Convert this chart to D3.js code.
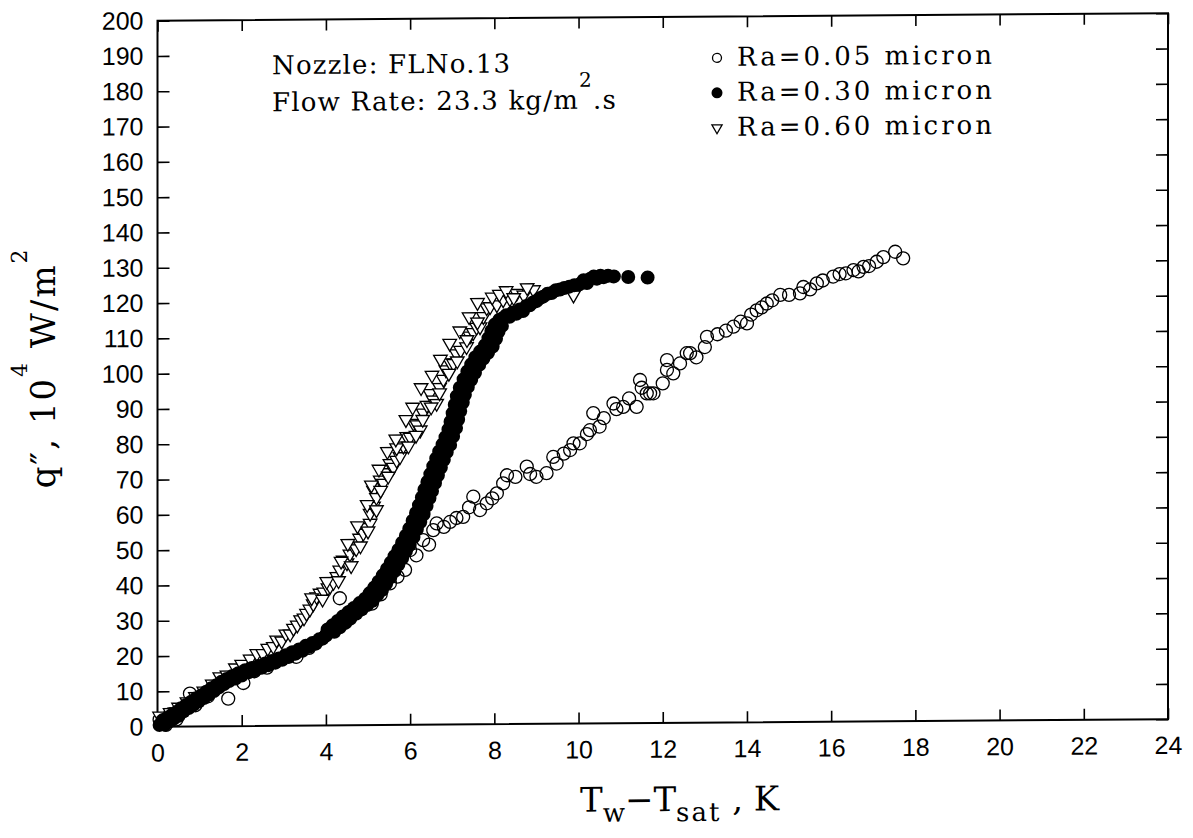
<!DOCTYPE html>
<html>
<head>
<meta charset="utf-8">
<script src="https://cdn.jsdelivr.net/npm/d3@7"></script>
<style>
  body { margin: 0; background: #fff; }
  svg { display: block; }
</style>
</head>
<body>
<svg id="chart" width="1193" height="838"></svg>
<script>
// tick values
const xTicks = d3.range(0, 25, 2);
const yTicks = d3.range(0, 201, 10);

const legendLabels = ["Ra=0.05 micron", "Ra=0.30 micron", "Ra=0.60 micron"];

// Ra = 0.05 micron (open circles), [Tw-Tsat, q'']
const ra005 = [
  [0.05,2.0],[0.2,0.5],[0.3,3.5],[0.45,2.0],[0.6,4.5],[0.77,9.3],[0.9,6.0],[1.2,8.5],
  [1.68,7.8],[2.04,12.2],[2.3,15.5],[2.6,16.5],[3.3,19.5],[3.6,22.0],[4.0,25.5],[4.33,36.0],
  [4.55,32.0],[4.8,33.5],[5.09,34.4],[5.3,37.0],[5.52,40.1],[5.7,42.0],[5.88,43.9],[6.0,49.5],
  [6.15,48.0],[6.31,52.3],[6.45,51.0],[6.55,55.1],[6.63,57.0],[6.8,56.0],[6.95,57.4],[7.1,58.5],
  [7.26,58.8],[7.4,61.5],[7.5,64.5],[7.66,60.7],[7.82,62.6],[7.95,64.0],[8.06,65.4],[8.21,68.2],
  [8.3,70.5],[8.5,70.0],[8.77,72.9],[8.85,70.8],[9.0,70.0],[9.24,71.0],[9.4,75.6],[9.48,73.7],
  [9.65,76.5],[9.8,77.5],[9.88,79.4],[10.03,79.4],[10.2,82.0],[10.27,83.1],[10.35,87.9],[10.5,84.1],
  [10.6,86.5],[10.83,90.6],[10.9,89.0],[11.06,89.6],[11.2,92.0],[11.38,89.6],[11.46,97.2],[11.5,95.0],
  [11.62,93.4],[11.7,93.4],[11.78,93.4],[12.0,96.2],[12.1,100.0],[12.1,102.8],[12.25,99.0],[12.41,101.8],
  [12.57,104.7],[12.65,104.7],[12.8,103.5],[13.0,106.4],[13.05,109.3],[13.3,110.0],[13.5,111.0],[13.68,112.1],
  [13.85,113.5],[14.0,113.0],[14.1,115.5],[14.23,116.7],[14.35,117.5],[14.47,118.6],[14.6,119.5],[14.79,121.0],
  [15.0,121.0],[15.26,121.4],[15.34,123.2],[15.5,122.5],[15.66,124.2],[15.8,125.0],[16.05,126.1],[16.2,126.8],
  [16.35,127.0],[16.53,127.9],[16.65,127.5],[16.77,128.8],[16.9,129.0],[17.08,130.2],[17.24,131.5],[17.52,133.0],
  [17.71,131.1]
];

// Ra = 0.30 micron (filled circles)
const ra030 = [
  [0.05,0.5],[0.12,1.8],[0.18,0.6],[0.22,2.4],[0.28,1.5],[0.33,3.2],[0.38,2.2],[0.45,4.1],
  [0.5,3.0],[0.56,5.2],[0.62,4.3],[0.68,6.1],[0.74,5.2],[0.8,7.0],[0.86,6.2],[0.92,8.0],
  [0.98,7.1],[1.04,8.8],[1.1,8.0],[1.16,9.8],[1.22,9.0],[1.28,10.8],[1.34,10.0],[1.4,11.6],
  [1.46,11.0],[1.52,12.6],[1.58,11.9],[1.64,13.4],[1.7,12.8],[1.78,14.2],[1.85,13.5],[1.92,15.0],
  [2.0,14.3],[2.08,15.8],[2.16,15.2],[2.24,16.4],[2.32,15.8],[2.4,17.0],[2.48,16.5],[2.56,17.7],
  [2.64,17.2],[2.72,18.4],[2.8,17.9],[2.88,19.1],[2.96,18.7],[3.04,20.0],[3.12,19.5],[3.2,20.8],
  [3.28,20.4],[3.36,21.6],[3.44,21.2],[3.52,22.6],[3.6,22.3],[3.68,23.4],[3.76,23.2],[3.84,24.4],
  [3.92,24.6],[4.0,25.6],[4.04,27.2],[4.2,26.5],[4.16,28.4],[4.33,27.8],[4.28,29.6],[4.46,29.0],
  [4.4,30.8],[4.58,30.2],[4.53,32.0],[4.72,31.6],[4.66,33.2],[4.85,32.8],[4.8,34.6],[4.98,34.0],
  [4.93,35.8],[5.11,35.2],[5.04,37.4],[5.22,36.8],[5.15,39.0],[5.33,38.2],[5.25,40.6],[5.43,40.0],
  [5.35,42.4],[5.53,41.8],[5.45,44.2],[5.63,43.6],[5.54,46.0],[5.72,45.4],[5.63,47.8],[5.81,47.2],
  [5.72,49.6],[5.9,49.2],[5.81,51.6],[5.99,51.0],[5.9,53.6],[6.08,53.2],[5.98,55.6],[6.16,55.4],
  [6.06,57.8],[6.24,57.4],[6.14,60.0],[6.32,59.6],[6.21,62.2],[6.39,62.0],[6.28,64.4],[6.46,64.2],
  [6.34,66.6],[6.52,66.2],[6.41,68.8],[6.59,68.4],[6.48,71.0],[6.66,70.6],[6.55,73.2],[6.73,72.8],
  [6.62,75.4],[6.8,75.0],[6.69,77.4],[6.87,77.2],[6.77,79.4],[6.95,79.2],[6.84,81.4],[7.02,81.6],
  [6.91,83.6],[7.09,84.0],[6.96,85.8],[7.14,86.4],[7.01,88.2],[7.19,88.8],[7.06,90.6],[7.25,91.2],
  [7.11,93.0],[7.3,93.4],[7.18,95.4],[7.37,95.6],[7.27,97.8],[7.45,97.6],[7.36,100.0],[7.54,99.6],
  [7.45,102.0],[7.64,101.8],[7.55,104.0],[7.74,103.6],[7.66,105.6],[7.85,105.2],[7.78,107.4],[7.96,107.0],
  [7.86,109.4],[8.04,109.2],[7.93,111.4],[8.1,111.2],[8.01,113.2],[8.18,112.8],[8.12,114.6],[8.2,115.0],
  [8.28,115.8],[8.36,115.4],[8.44,116.6],[8.52,116.2],[8.6,117.4],[8.68,117.0],[8.76,118.4],[8.84,118.6],
  [8.92,119.4],[9.0,119.8],[9.08,120.6],[9.16,121.0],[9.26,121.8],[9.36,122.0],[9.46,122.8],[9.56,123.0],
  [9.66,123.4],[9.78,123.8],[9.9,124.2],[10.02,124.4],[10.12,125.6],[10.2,124.8],[10.28,126.0],[10.36,126.6],
  [10.44,126.0],[10.52,126.8],[10.6,126.4],[10.7,126.8],[10.84,126.6],[11.18,126.4],[11.64,126.2]
];

// Ra = 0.60 micron (open down-triangles)
const ra060 = [
  [0.05,3.0],[0.15,1.5],[0.3,4.0],[0.5,5.5],[0.7,7.0],[0.9,8.5],[1.1,10.0],[1.3,12.0],
  [1.48,14.0],[1.65,14.5],[1.85,16.5],[2.0,17.5],[2.2,19.0],[2.36,20.5],[2.5,20.5],[2.62,22.0],
  [2.75,22.5],[2.83,24.3],[2.95,24.0],[3.05,26.0],[3.15,26.0],[3.23,27.6],[3.32,28.5],[3.4,30.0],
  [3.48,30.5],[3.54,31.8],[3.62,33.0],[3.7,34.5],[3.78,36.5],[3.86,37.5],[3.95,37.8],[4.05,39.0],
  [4.1,39.4],[4.18,40.5],[4.26,42.2],[4.33,44.0],[4.41,46.8],[4.5,46.0],[4.57,48.5],[4.65,50.6],
  [4.72,50.0],[4.8,53.0],[4.89,54.4],[4.95,56.0],[5.05,57.2],[5.05,60.0],[5.13,62.0],[5.13,66.5],
  [5.2,64.5],[5.29,69.4],[5.36,68.5],[5.42,71.5],[5.52,74.1],[5.6,73.0],[5.68,75.0],[5.76,76.0],
  [5.84,79.0],[5.92,81.7],[6.0,81.5],[6.08,85.4],[6.16,85.0],[6.24,83.5],[6.31,88.3],[6.4,90.5],
  [6.47,93.8],[6.55,92.0],[6.63,91.0],[6.7,95.5],[6.79,97.8],[6.85,100.5],[6.95,102.5],[7.03,102.3],
  [7.1,105.0],[7.2,106.0],[7.34,107.0],[7.42,110.0],[7.5,111.0],[7.58,112.5],[7.66,112.6],[7.74,115.5],
  [7.82,118.0],[7.9,118.3],[8.06,118.8],[8.21,120.2],[8.37,120.5],[8.53,122.0],[8.7,121.5],[8.93,123.0],
  [9.88,121.4],
  [3.66,36.2],[3.92,35.8],[4.02,40.8],[4.3,41.0],[4.36,46.5],[4.6,45.2],[4.52,51.5],[4.82,50.8],
  [4.75,56.5],[5.0,55.0],[4.98,62.5],[5.2,61.0],[5.08,68.0],[5.3,66.5],[5.26,72.5],[5.48,70.5],
  [5.46,77.5],[5.68,78.5],[5.66,81.0],[5.96,79.0],[5.9,86.5],[6.14,82.0],[6.06,90.0],[6.3,86.5],
  [6.26,95.5],[6.5,90.0],[6.52,99.0],[6.7,94.0],[6.72,103.5],[6.92,99.5],[6.94,108.0],[7.12,103.0],
  [7.18,111.5],[7.35,109.0],[7.4,115.5],[7.6,114.0],[7.6,119.5],[7.95,121.0],[8.12,121.8],[8.28,122.8],
  [8.46,120.8],[8.78,123.6]
];

const svg = d3.select("#chart");

// the scanned original is slightly skewed: right side sits ~7px higher
const x0 = 157.5, y0 = 726.7;
const root = svg.append("g")
  .attr("transform", `translate(${x0},${y0}) skewY(-0.425) translate(${-x0},${-y0})`);

const x = d3.scaleLinear().domain([0, 24]).range([157.5, 1168]);
const y = d3.scaleLinear().domain([0, 200]).range([726.7, 20.7]);

const tickFont = "'Liberation Sans', Arial, sans-serif";
const serifFont = "'DejaVu Serif', serif";

// axes (ticks point inward)
const styleAxis = g => {
  g.select(".domain").remove();
  g.selectAll(".tick line").attr("stroke", "#000").attr("stroke-width", 1.6);
  g.selectAll(".tick text").attr("fill", "#000").attr("font-family", tickFont).attr("font-size", 25);
};

root.append("g")
  .attr("transform", `translate(0,${y(0)})`)
  .call(d3.axisBottom(x).tickValues(xTicks).tickSize(-11).tickPadding(17))
  .call(styleAxis);

root.append("g")
  .attr("transform", `translate(0,${y(200)})`)
  .call(d3.axisTop(x).tickValues(xTicks).tickSize(-11).tickFormat(""))
  .call(styleAxis);

root.append("g")
  .attr("transform", `translate(${x(0)},0)`)
  .call(d3.axisLeft(y).tickValues(yTicks).tickSize(-12).tickPadding(14))
  .call(styleAxis);

root.append("g")
  .attr("transform", `translate(${x(24)},0)`)
  .call(d3.axisRight(y).tickValues(yTicks).tickSize(-12).tickFormat(""))
  .call(styleAxis);

root.append("rect")
  .attr("x", x(0)).attr("y", y(200))
  .attr("width", x(24) - x(0)).attr("height", y(0) - y(200))
  .attr("fill", "none").attr("stroke", "#000").attr("stroke-width", 2);

// data
const tri = d3.symbol().type(d3.symbolTriangle).size(80);

root.append("g").selectAll("circle")
  .data(ra005).join("circle")
  .attr("cx", d => x(d[0])).attr("cy", d => y(d[1]))
  .attr("r", 6.5)
  .attr("fill", "none").attr("stroke", "#000").attr("stroke-width", 1.3);

root.append("g").selectAll("path")
  .data(ra060).join("path")
  .attr("d", tri)
  .attr("transform", d => `translate(${x(d[0])},${y(d[1])}) rotate(180)`)
  .attr("fill", "#fff").attr("stroke", "#000").attr("stroke-width", 1.3);

root.append("g").selectAll("circle")
  .data(ra030).join("circle")
  .attr("cx", d => x(d[0])).attr("cy", d => y(d[1]))
  .attr("r", 7)
  .attr("fill", "#000");

// annotation
const note = root.append("g")
  .attr("font-family", serifFont).attr("font-size", 26).attr("fill", "#000")
  .attr("letter-spacing", 1.2);
note.append("text").attr("x", 272).attr("y", 75).text("Nozzle: FLNo.13");
const flow = note.append("text").attr("x", 272).attr("y", 112);
flow.append("tspan").text("Flow Rate: 23.3 kg/m");
flow.append("tspan").attr("dy", -22).attr("font-size", 20).text("2");
flow.append("tspan").attr("dy", 22).text(".s");

// legend
const legend = root.append("g")
  .attr("font-family", serifFont).attr("font-size", 26).attr("fill", "#000");
legendLabels.forEach((lab, i) => {
  const ly = 70 + i * 35;
  const mx = 717;
  if (i === 0) {
    legend.append("circle").attr("cx", mx).attr("cy", ly - 8).attr("r", 4.5)
      .attr("fill", "none").attr("stroke", "#000").attr("stroke-width", 1.3);
  } else if (i === 1) {
    legend.append("circle").attr("cx", mx).attr("cy", ly - 8).attr("r", 5.5).attr("fill", "#000");
  } else {
    legend.append("path").attr("d", d3.symbol().type(d3.symbolTriangle).size(45))
      .attr("transform", `translate(${mx},${ly - 8}) rotate(180)`)
      .attr("fill", "none").attr("stroke", "#000").attr("stroke-width", 1.3);
  }
  legend.append("text").attr("x", 737).attr("y", ly).attr("letter-spacing", 3).text(lab);
});

// axis titles
const xt = root.append("text")
  .attr("x", 580).attr("y", 815)
  .attr("font-family", serifFont).attr("font-size", 34).attr("fill", "#000");
xt.append("tspan").text("T");
xt.append("tspan").attr("dy", 10).attr("font-size", 26).text("w");
xt.append("tspan").attr("dy", -10).text("\u2212T");
xt.append("tspan").attr("dy", 10).attr("font-size", 26).attr("letter-spacing", 2).text("sat");
xt.append("tspan").attr("dy", -10).text(" , K");

const yt = root.append("text")
  .attr("transform", "translate(55,367) rotate(-90)")
  .attr("text-anchor", "middle")
  .attr("font-family", serifFont).attr("font-size", 34).attr("letter-spacing", 2)
  .attr("fill", "#000");
yt.append("tspan").text("q\u2033,  10");
yt.append("tspan").attr("dy", -28).attr("font-size", 22).text("4");
yt.append("tspan").attr("dy", 28).text(" W/m");
yt.append("tspan").attr("dy", -28).attr("font-size", 22).text("2");
</script>
</body>
</html>
